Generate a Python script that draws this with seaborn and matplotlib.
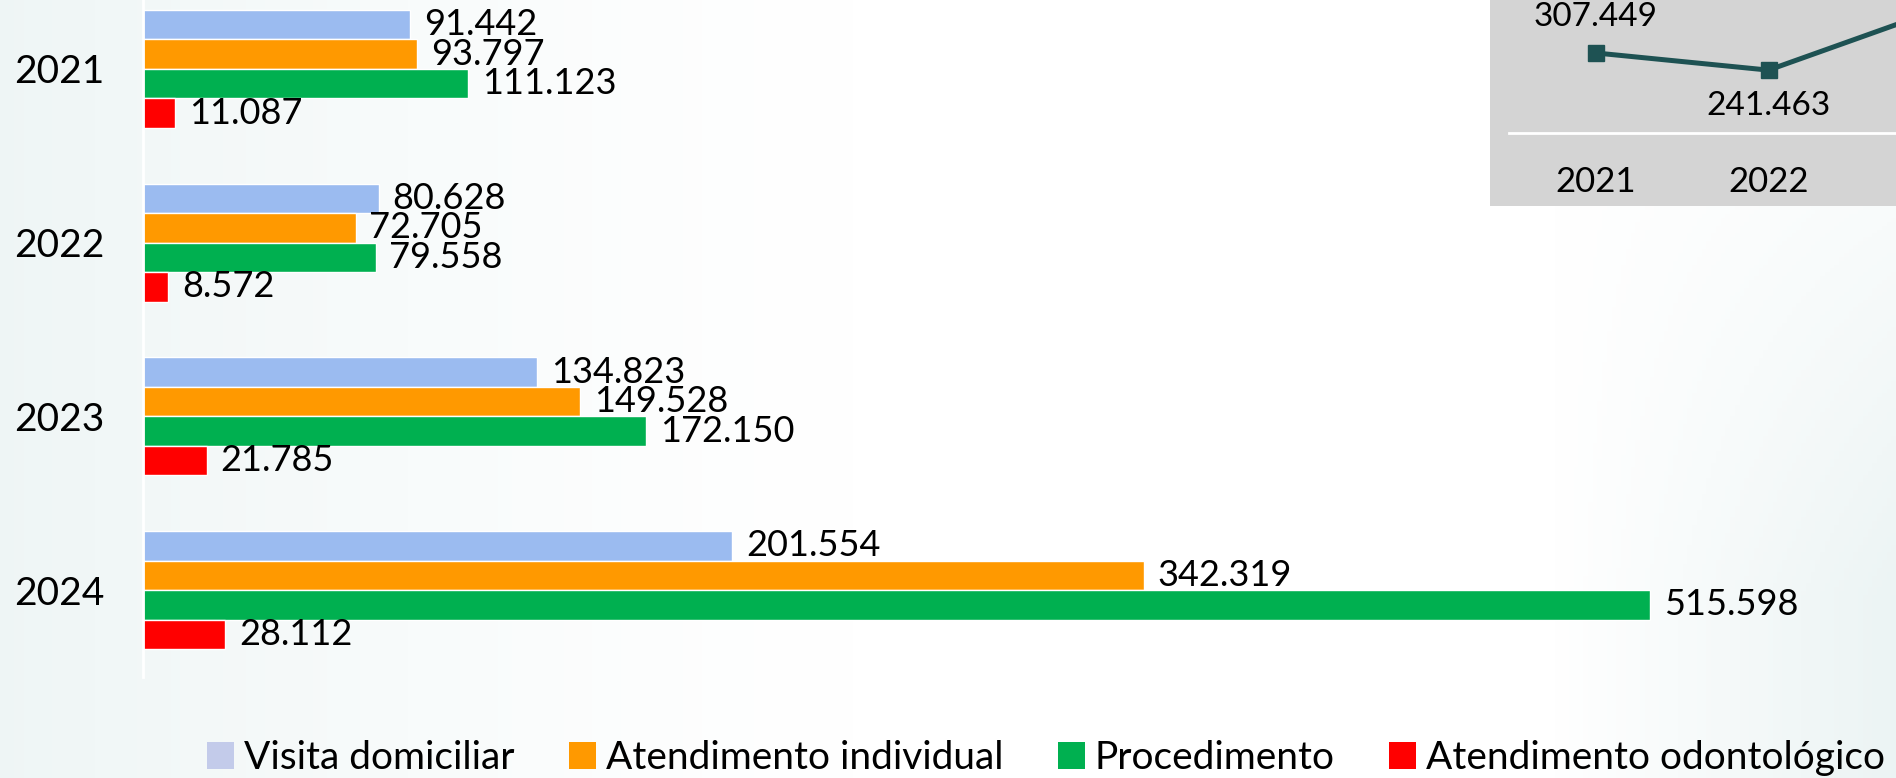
"""Horizontal grouped bars of attendance types per year, with a cropped totals inset."""

import matplotlib
matplotlib.use("Agg")

import matplotlib.pyplot as plt
from matplotlib.patches import Patch, Rectangle
import seaborn as sns
import pandas as pd
import numpy as np

YEARS = ["2021", "2022", "2023", "2024"]
SERIES = ["Visita domiciliar", "Atendimento individual", "Procedimento",
          "Atendimento odontológico"]
VISITA = [91442, 80628, 134823, 201554]
INDIVIDUAL = [93797, 72705, 149528, 342319]
PROCEDIMENTO = [111123, 79558, 172150, 515598]
ODONTO = [11087, 8572, 21785, 28112]
TOTALS = [307449, 241463, 478286, 1087583]

BAR_COLORS = ["#9BBBF0", "#FF9900", "#00B050", "#FF0000"]
LEGEND_COLORS = ["#C3CBEA", "#FF9900", "#00B050", "#FF0000"]
LINE_COLOR = "#1E5253"

W, H = 1896, 778


def br(v):
    return f"{v:,}".replace(",", ".")


sns.set_theme(style="white")
plt.rcParams["font.family"] = ["Lato", "DejaVu Sans"]
FS = 28

df = pd.DataFrame({
    "ano": YEARS * 4,
    "tipo": sum([[s] * 4 for s in SERIES], []),
    "valor": VISITA + INDIVIDUAL + PROCEDIMENTO + ODONTO,
})

fig = plt.figure(figsize=(W / 100, H / 100), dpi=100)

# soft teal background wash
bg = fig.add_axes([0, 0, 1, 1], zorder=-5)
xx, yy = np.meshgrid(np.linspace(0, 1, 400), np.linspace(0, 1, 200))
left = np.clip(1 - xx / 0.45, 0, 1) ** 1.3 * 0.85
right = np.clip((xx - 0.82) / 0.18, 0, 1) * np.clip(yy * 1.3, 0, 1)
wgt = np.maximum(left, right)[..., None]
tint = np.array([0.925, 0.957, 0.957])
img = 1 - wgt * (1 - tint)
bg.imshow(img, aspect="auto", extent=[0, 1, 0, 1], origin="upper")
bg.axis("off")

# main bar chart
ax = fig.add_axes([143 / W, (H - 677) / H, 1754 / W, 695 / H])
ax.set_facecolor("none")
sns.barplot(data=df, y="ano", x="valor", hue="tipo", orient="h",
            palette=BAR_COLORS, width=0.68, gap=0, ax=ax, legend=False,
            saturation=1)
ax.set_xlim(0, 600000)
ax.set_ylim(3.5, -0.5)
for cont, vals in zip(ax.containers, [VISITA, INDIVIDUAL, PROCEDIMENTO, ODONTO]):
    ax.bar_label(cont, labels=[br(v) for v in vals], padding=10, fontsize=26,
                 color="black")
ax.set_xlabel("")
ax.set_ylabel("")
ax.set_xticks([])
ax.tick_params(axis="y", length=0, pad=28, labelsize=FS, labelcolor="black")
for side in ["top", "right", "bottom"]:
    ax.spines[side].set_visible(False)
ax.spines["left"].set_color("white")
ax.spines["left"].set_linewidth(2)

# cropped totals inset (top right)
fig.patches.append(Rectangle((1490 / W, (H - 206) / H), (W - 1490) / W, 206 / H,
                             transform=fig.transFigure, facecolor="#D4D4D4",
                             edgecolor="none", zorder=1))
ax2 = fig.add_axes([1509 / W, (H - 133) / H, 692 / W, 200 / H], zorder=3)
ax2.set_facecolor("none")
ax2.plot(YEARS, TOTALS, color=LINE_COLOR, lw=3.6, marker="s", markersize=11)
ax2.set_xlim(-0.5, 3.5)
ax2.set_ylim(0, 768000)
ax2.set_yticks([])
ax2.tick_params(axis="x", length=0, pad=24, labelsize=25, labelcolor="black")
for side in ["top", "right", "left"]:
    ax2.spines[side].set_visible(False)
ax2.spines["bottom"].set_color("white")
ax2.spines["bottom"].set_linewidth(2)
offsets = [26, -26, 26, 26]
for i, (v, off) in enumerate(zip(TOTALS, offsets)):
    ax2.annotate(br(v), (i, v), xytext=(0, off), textcoords="offset points",
                 ha="center", va="center", fontsize=24, color="black")

handles = [Patch(facecolor=c, edgecolor="none") for c in LEGEND_COLORS]
fig.legend(handles, SERIES, loc="center", bbox_to_anchor=(1046 / W, 20 / H),
           ncol=4, frameon=False, fontsize=FS, handlelength=0.7,
           handleheight=0.7, handletextpad=0.25, columnspacing=1.4,
           borderpad=0, labelcolor="black")

fig.savefig("out.png", dpi=100)
